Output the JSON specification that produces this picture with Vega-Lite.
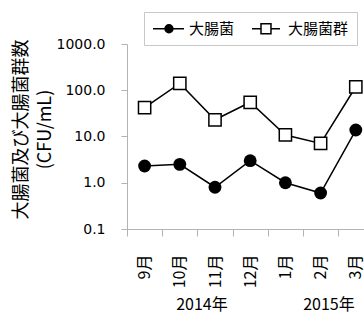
{
  "$schema": "https://vega.github.io/schema/vega-lite/v6.json",
  "width": 237,
  "height": 185,
  "autosize": {"type": "none"},
  "padding": {"left": 127, "top": 44, "right": 0, "bottom": 84},
  "background": "white",
  "config": {"view": {"stroke": null}, "font": "Noto Sans CJK JP"},
  "layer": [
    {
      "data": {
        "values": [
          {"month": "9月", "series": "大腸菌", "value": 2.3},
          {"month": "10月", "series": "大腸菌", "value": 2.5},
          {"month": "11月", "series": "大腸菌", "value": 0.8},
          {"month": "12月", "series": "大腸菌", "value": 3.0},
          {"month": "1月", "series": "大腸菌", "value": 1.0},
          {"month": "2月", "series": "大腸菌", "value": 0.6},
          {"month": "3月", "series": "大腸菌", "value": 13.8},
          {"month": "9月", "series": "大腸菌群", "value": 42},
          {"month": "10月", "series": "大腸菌群", "value": 140},
          {"month": "11月", "series": "大腸菌群", "value": 23},
          {"month": "12月", "series": "大腸菌群", "value": 55},
          {"month": "1月", "series": "大腸菌群", "value": 10.8},
          {"month": "2月", "series": "大腸菌群", "value": 7.1},
          {"month": "3月", "series": "大腸菌群", "value": 119}
        ]
      },
      "encoding": {
        "x": {
          "field": "month",
          "type": "nominal",
          "scale": {"type": "band", "domain": ["9月", "10月", "11月", "12月", "1月", "2月", "3月"], "range": [0, 246.4], "paddingInner": 0, "paddingOuter": 0},
          "axis": {
            "orient": "bottom",
            "title": null,
            "labelAngle": 270,
            "labelFont": "Noto Sans CJK JP",
            "labelFontSize": 16,
            "labelColor": "black",
            "tickBand": "extent",
            "tickSize": 7,
            "tickColor": "#b3b3b3",
            "domainColor": "#b3b3b3",
            "labelPadding": 18,
            "grid": false
          }
        },
        "y": {
          "field": "value",
          "type": "quantitative",
          "scale": {"type": "log", "domain": [0.1, 1000], "nice": false},
          "axis": {
            "title": ["大腸菌及び大腸菌群数", "(CFU/mL)"],
            "values": [0.1, 1, 10, 100, 1000],
            "format": ".1f",
            "labelFont": "DejaVu Sans",
            "labelFontSize": 14,
            "labelColor": "black",
            "tickSize": 6,
            "tickColor": "#b3b3b3",
            "domainColor": "#b3b3b3",
            "labelPadding": 16,
            "grid": false,
            "titleFont": "Noto Sans CJK JP",
            "titleFontSize": 18,
            "titleFontWeight": "normal",
            "titleColor": "black",
            "titleX": -115,
            "titleY": 85,
            "titleAngle": 270,
            "titleAlign": "center",
            "titleBaseline": "top",
            "titleLineHeight": 24
          }
        }
      },
      "layer": [
        {
          "mark": {"type": "line", "stroke": "black", "strokeWidth": 1.5},
          "encoding": {"detail": {"field": "series"}}
        },
        {
          "transform": [{"filter": "datum.series == '大腸菌'"}],
          "mark": {"type": "point", "shape": "circle", "filled": true, "color": "black", "opacity": 1, "size": 165}
        },
        {
          "transform": [{"filter": "datum.series == '大腸菌群'"}],
          "mark": {"type": "point", "shape": "square", "filled": false, "fill": "white", "stroke": "black", "strokeWidth": 1.5, "opacity": 1, "size": 150}
        },
        {
          "mark": {"type": "point", "stroke": "black", "strokeWidth": 1.5, "opacity": 0},
          "encoding": {
            "shape": {
              "field": "series",
              "type": "nominal",
              "scale": {
                "domain": ["大腸菌", "大腸菌群"],
                "range": [
                  "M-1,0H3.13M1.66,0A0.53,0.53,0,1,1,0.6,0A0.53,0.53,0,1,1,1.66,0Z",
                  "M-1,0H0.2M1.53,0H2.73M0.2,-0.67H1.53V0.67H0.2Z"
                ]
              },
              "legend": {
                "title": null,
                "orient": "none",
                "legendX": 17,
                "legendY": -32,
                "direction": "horizontal",
                "padding": 8,
                "strokeColor": "#c8c8c8",
                "fillColor": "white",
                "symbolSize": 225,
                "symbolStrokeWidth": 1.5,
                "symbolOpacity": 1,
                "labelOffset": 20,
                "columnPadding": 14,
                "labelFont": "Noto Sans CJK JP",
                "labelFontSize": 15,
                "labelColor": "black",
                "labelLimit": 300,
                "labelExpr": "datum.label == '大腸菌群' ? datum.label + '    ' : datum.label"
              }
            },
            "fill": {
              "field": "series",
              "type": "nominal",
              "scale": {"domain": ["大腸菌", "大腸菌群"], "range": ["black", "white"]},
              "legend": {
                "title": null,
                "orient": "none",
                "legendX": 17,
                "legendY": -32,
                "direction": "horizontal",
                "padding": 8,
                "strokeColor": "#c8c8c8",
                "fillColor": "white",
                "symbolSize": 225,
                "symbolStrokeWidth": 1.5,
                "symbolOpacity": 1,
                "labelOffset": 20,
                "columnPadding": 14,
                "labelFont": "Noto Sans CJK JP",
                "labelFontSize": 15,
                "labelColor": "black",
                "labelLimit": 300,
                "labelExpr": "datum.label == '大腸菌群' ? datum.label + '    ' : datum.label"
              }
            }
          }
        }
      ]
    },
    {
      "data": {"values": [{"year": "2014年"}, {"year": "2015年"}]},
      "mark": {"type": "point", "opacity": 0},
      "encoding": {
        "x": {
          "field": "year",
          "type": "nominal",
          "scale": {"type": "band", "domain": ["2014年", "2015年"], "range": [11.5, 265.5], "paddingInner": 0, "paddingOuter": 0},
          "axis": {
            "orient": "bottom",
            "title": null,
            "domain": false,
            "ticks": false,
            "tickSize": 0,
            "labelAngle": 0,
            "labelPadding": 67,
            "labelBaseline": "top",
            "labelFont": "Noto Sans CJK JP",
            "labelFontSize": 16,
            "labelColor": "black",
            "grid": false
          }
        }
      }
    }
  ],
  "resolve": {"scale": {"x": "independent"}, "axis": {"x": "independent"}}
}
